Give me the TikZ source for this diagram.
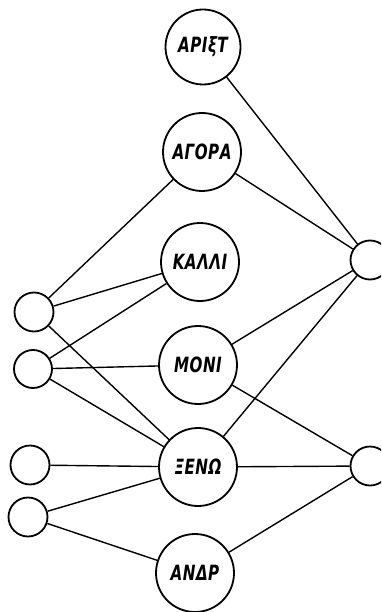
\documentclass[tikz,border=0pt]{standalone}
\usepackage{fontspec}
\newfontfamily\lab{DejaVu Sans Condensed}[LetterSpace=3]
\newcommand{\lbl}[1]{\scalebox{0.8}[1]{#1}}
\begin{document}
\begin{tikzpicture}[x=1pt,y=-1pt,
  big/.style={draw,circle,line width=1.8pt,minimum size=78pt,inner sep=0pt,font=\lab\bfseries\itshape\fontsize{21}{21}\selectfont},
  small/.style={draw,circle,line width=1.8pt,minimum size=39pt,inner sep=0pt},
  conn/.style={line width=1.4pt}]
\useasboundingbox (0,0) rectangle (381,612);
\clip (0,0) rectangle (381,612);
\node[big,minimum size=75pt] (arist) at (203,47) {\lbl{ΑΡΙξΤ}};
\node[big] (agora) at (202,152) {\lbl{ΑΓΟΡΑ}};
\node[big] (kalli) at (200,262) {\lbl{ΚΑΛΛΙ}};
\node[big] (moni) at (198,365) {\lbl{ΜΟΝΙ}};
\node[big] (xeno) at (198,467) {\lbl{ΞΕΝΩ}};
\node[big] (andr) at (195,573) {\lbl{ΑΝΔΡ}};
\node[small] (l1) at (34,312) {};
\node[small,minimum size=38pt] (l2) at (33,369) {};
\node[small] (l3) at (30,465) {};
\node[small] (l4) at (28,517) {};
\node[small] (r1) at (370,260) {};
\node[small] (r2) at (370,466) {};
\draw[conn] (arist) -- (r1);
\draw[conn] (agora) -- (r1);
\draw[conn] (agora) -- (l1);
\draw[conn] (kalli) -- (l1);
\draw[conn] (kalli) -- (l2);
\draw[conn] (l1) -- (xeno);
\draw[conn] (l2) -- (moni);
\draw[conn] (l2) -- (xeno);
\draw[conn] (moni) -- (r1);
\draw[conn] (moni) -- (r2);
\draw[conn] (xeno) -- (r1);
\draw[conn] (xeno) -- (r2);
\draw[conn] (l3) -- (xeno);
\draw[conn] (l4) -- (xeno);
\draw[conn] (l4) -- (andr);
\draw[conn] (andr) -- (r2);
\end{tikzpicture}
\end{document}
